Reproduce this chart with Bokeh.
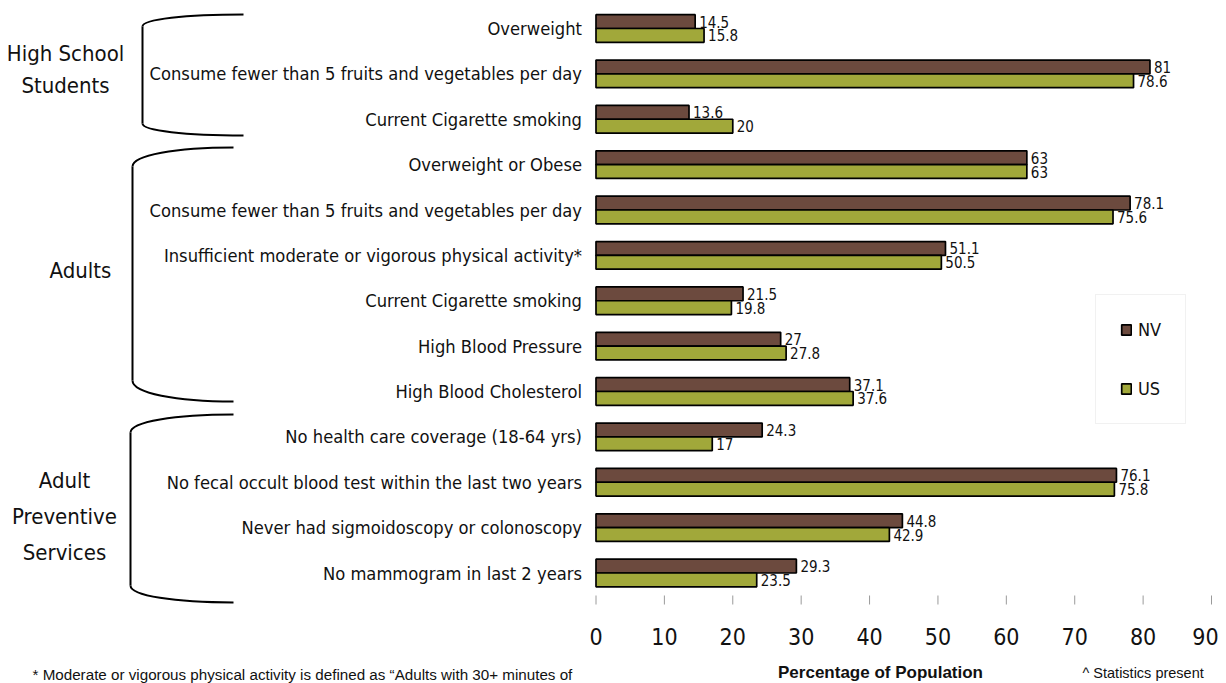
from bokeh.plotting import figure
from bokeh.models import Range1d
from bokeh.core.properties import value
from bokeh.embed import file_html
from bokeh.resources import INLINE

# ---------------- data ----------------
categories = [
    "Overweight",
    "Consume fewer than 5 fruits and vegetables per day",
    "Current Cigarette smoking",
    "Overweight or Obese",
    "Consume fewer than 5 fruits and vegetables per day",
    "Insufficient moderate or vigorous physical activity*",
    "Current Cigarette smoking",
    "High Blood Pressure",
    "High Blood Cholesterol",
    "No health care coverage (18-64 yrs)",
    "No fecal occult blood test within the last two years",
    "Never had sigmoidoscopy or colonoscopy",
    "No mammogram in last 2 years",
]
nv_values = [14.5, 81, 13.6, 63, 78.1, 51.1, 21.5, 27, 37.1, 24.3, 76.1, 44.8, 29.3]
us_values = [15.8, 78.6, 20, 63, 75.6, 50.5, 19.8, 27.8, 37.6, 17, 75.8, 42.9, 23.5]
series_names = ["NV", "US"]
x_ticks = [0, 10, 20, 30, 40, 50, 60, 70, 80, 90]
group_labels = ["High School\nStudents", "Adults", "Adult\nPreventive\nServices"]
x_axis_title = "Percentage of Population"
footnote = "* Moderate or vigorous physical activity is defined as \u201cAdults with 30+ minutes of"
footnote2 = "^ Statistics present"

# ---------------- style ----------------
NARROW = "'DejaVu Sans Condensed', 'Liberation Sans Narrow', sans-serif"
REGULAR = "'Liberation Sans', Arial, sans-serif"
NV_COLOR = "#6c4a3e"
US_COLOR = "#a1a83a"
TXT = "#111111"

W, H = 1226, 683
PX_ZERO, PX_PER_UNIT = 595.5, 615.5 / 90.0
ROW0, ROW_PITCH = 28.0, 45.375

pct_start = (0 - PX_ZERO) / PX_PER_UNIT
pct_end = (W - PX_ZERO) / PX_PER_UNIT
row_top = (0 - ROW0) / ROW_PITCH
row_bottom = (H - ROW0) / ROW_PITCH

p = figure(width=W, height=H, output_backend="svg", toolbar_location=None,
           x_range=Range1d(0, W), y_range=Range1d(H, 0),
           x_axis_location=None, y_axis_location=None, min_border=0)
p.grid.visible = False
p.outline_line_color = None
p.background_fill_color = "white"
p.extra_x_ranges = {"pct": Range1d(pct_start, pct_end)}
p.extra_y_ranges = {"rows": Range1d(row_bottom, row_top)}

n = len(categories)
rows = list(range(n))
BAR_H = 0.305
nv_y = [r - BAR_H / 2 for r in rows]
us_y = [r + BAR_H / 2 for r in rows]

p.hbar(y=nv_y, left=0, right=nv_values, height=BAR_H, x_range_name="pct", y_range_name="rows",
       fill_color=NV_COLOR, line_color="black", line_width=1.7, legend_label=series_names[0])
p.hbar(y=us_y, left=0, right=us_values, height=BAR_H, x_range_name="pct", y_range_name="rows",
       fill_color=US_COLOR, line_color="black", line_width=1.7, legend_label=series_names[1])

fmt = lambda v: f"{v:g}"
for vals, ys in ((nv_values, nv_y), (us_values, us_y)):
    p.text(x=vals, y=ys, text=[fmt(v) for v in vals], x_range_name="pct", y_range_name="rows",
           x_offset=4, text_font=value(NARROW), text_font_size="15px", text_baseline="middle",
           text_align="left", text_color=TXT)

# category labels
p.text(x=[0] * n, y=rows, text=categories, x_range_name="pct", y_range_name="rows",
       x_offset=-14, text_font=value(NARROW), text_font_size="18.2px", text_baseline="middle",
       text_align="right", text_color=TXT)

# x axis ticks and labels
p.segment(x0=x_ticks, x1=x_ticks, y0=[595] * len(x_ticks), y1=[604] * len(x_ticks),
          x_range_name="pct", line_color="#9a9a9a", line_width=1)
tick_offsets = [0] * (len(x_ticks) - 1) + [-6]
p.text(x=x_ticks, y=[636] * len(x_ticks), text=[str(t) for t in x_ticks], x_range_name="pct",
       x_offset=tick_offsets, text_font=value(NARROW), text_font_size="23px",
       text_baseline="middle", text_align="center", text_color=TXT)

# braces
braces = [(243, 14, 142, 26, 123, 135), (233, 147, 132, 166, 380, 401), (233, 414, 130, 432, 585, 602)]
for xr, yt, xv, yv0, yv1, yb in braces:
    p.bezier(x0=[xr], y0=[yt], x1=[xv], y1=[yv0],
             cx0=[xv + 0.43 * (xr - xv)], cy0=[yt], cx1=[xv], cy1=[yt + 0.4 * (yv0 - yt)],
             line_color="black", line_width=2)
    p.segment(x0=[xv], y0=[yv0], x1=[xv], y1=[yv1], line_color="black", line_width=2)
    p.bezier(x0=[xv], y0=[yv1], x1=[xr], y1=[yb],
             cx0=[xv], cy0=[yb - 0.4 * (yb - yv1)], cx1=[xv + 0.43 * (xr - xv)], cy1=[yb],
             line_color="black", line_width=2)

# group labels
group_pos = [(65, 69, 1.25), (80, 270, 1.3), (64, 516, 1.45)]
for lab, (gx, gy, lh) in zip(group_labels, group_pos):
    p.text(x=[gx], y=[gy], text=[lab], text_font=value(NARROW), text_font_size="22px",
           text_baseline="middle", text_align="center", text_line_height=lh, text_color=TXT)

# footnotes
p.text(x=[32], y=[674], text=[footnote], text_font=value(REGULAR), text_font_size="15.2px",
       text_baseline="middle", text_align="left", text_color=TXT)
p.text(x=[880], y=[672], text=[x_axis_title], text_font=value(REGULAR), text_font_size="17px",
       text_font_style="bold", text_baseline="middle", text_align="center", text_color=TXT)
p.text(x=[1082], y=[672], text=[footnote2], text_font=value(REGULAR), text_font_size="14.5px",
       text_baseline="middle", text_align="left", text_color=TXT)

# legend
lg = p.legend[0]
lg.location = (1095, H - 424)
lg.margin = 0
lg.padding = 24
lg.spacing = 38
lg.glyph_width = 12
lg.glyph_height = 13
lg.label_height = 20
lg.label_standoff = 6
lg.label_text_font = NARROW
lg.label_text_font_size = "18px"
lg.label_text_color = TXT
lg.border_line_color = "#e4e4e4"
lg.border_line_width = 1
lg.background_fill_color = "white"
lg.background_fill_alpha = 1

open("out.html", "w").write(file_html(p, INLINE))
